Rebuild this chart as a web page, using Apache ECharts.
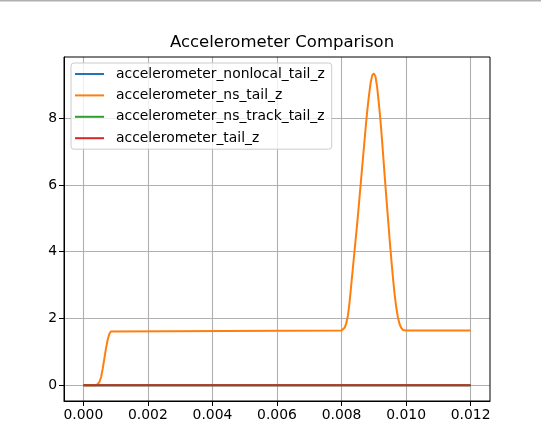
<!DOCTYPE html>
<html>
<head>
<meta charset="utf-8">
<script src="https://cdn.jsdelivr.net/npm/echarts@6/dist/echarts.min.js"></script>
<style>
html,body{margin:0;padding:0;background:#fff;}
#chart{width:541px;height:448px;}
</style>
</head>
<body>
<div id="chart"></div>
<script>
const titleText = 'Accelerometer Comparison';
const seriesNames = ['accelerometer_nonlocal_tail_z','accelerometer_ns_tail_z','accelerometer_ns_track_tail_z','accelerometer_tail_z'];
const seriesColors = ['#1f77b4','#ff7f0e','#2ca02c','#d62728'];
const xTicks = [0,0.002,0.004,0.006,0.008,0.010,0.012];
const yTicks = [0,2,4,6,8];

// zero-valued series (time, value)
const zeroTimes = [0, 0.012];
const zeroValues = [0, 0];

// ns_tail_z (time, value)
const nsTimes = [0,0.0004,0.00045,0.0005,0.00055,0.0006,0.00065,0.0007,0.00075,0.0008,0.00085,0.0009,
  0.008,0.00805,0.0081,0.00815,0.0082,0.00825,0.0083,0.00835,0.0084,0.00845,0.0085,0.00855,0.0086,0.00865,
  0.0087,0.00875,0.0088,0.00885,0.0089,0.00895,0.009,0.00905,0.0091,0.00915,0.0092,0.00925,0.0093,0.00935,
  0.0094,0.00945,0.0095,0.00955,0.0096,0.00965,0.0097,0.00975,0.0098,0.00985,0.0099,0.00995,0.010,0.012];
const nsValues = [0,0,0.02,0.1,0.25,0.5,0.8,1.1,1.35,1.53,1.61,1.64,
  1.64,1.65,1.73,1.87,2.1,2.5,3.0,3.5,4.0,4.5,5.0,5.55,6.1,6.65,
  7.2,7.75,8.25,8.68,9.05,9.28,9.34,9.25,8.95,8.5,8.0,7.4,6.75,6.1,
  5.48,4.86,4.25,3.68,3.15,2.68,2.3,2.02,1.83,1.72,1.66,1.64,1.64,1.64];

function pairs(xs, ys){ return xs.map((x,i)=>[x, ys[i]]); }

const seriesData = [
  pairs(zeroTimes, zeroValues),
  pairs(nsTimes, nsValues),
  pairs(zeroTimes, zeroValues),
  pairs(zeroTimes, zeroValues)
];

const chart = echarts.init(document.getElementById('chart'), null, {renderer:'canvas'});
const font = 'DejaVu Sans';
chart.setOption({
  animation:false,
  backgroundColor:'#fff',
  title:{text:titleText,left:277,top:29,textAlign:'center',
    textStyle:{fontFamily:font,fontSize:16.5,fontWeight:'normal',color:'#000'}},
  graphic:[{type:'rect',shape:{x:0,y:0,width:541,height:1.5},style:{fill:'#b0b0b0'},silent:true}],
  grid:{left:64,right:51,top:57,bottom:47,show:true,borderColor:'#000',borderWidth:1,backgroundColor:'transparent',z:10},
  legend:{
    orient:'vertical',left:71,top:63,
    data:seriesNames,
    icon:'rect',itemWidth:29,itemHeight:2,itemGap:5.4,
    padding:[3,7,3,4],
    backgroundColor:'rgba(255,255,255,0.8)',borderColor:'#cccccc',borderWidth:1,borderRadius:3,
    textStyle:{fontFamily:font,fontSize:13.9,color:'#000',lineHeight:16,padding:[0,0,0,7]}
  },
  xAxis:{type:'value',min:-0.0006,max:0.0126,
    axisLine:{show:true,onZero:false,lineStyle:{color:'#000',width:1}},
    axisTick:{show:true,length:5,lineStyle:{color:'#000',width:1},customValues:xTicks},
    axisLabel:{customValues:xTicks,fontFamily:font,fontSize:13.9,color:'#000',margin:7,
      formatter:v=>v.toFixed(3)},
    splitLine:{show:true,lineStyle:{color:'#b0b0b0',width:1.1}}
  },
  yAxis:{type:'value',min:-0.468,max:9.83,
    axisLine:{show:true,onZero:false,lineStyle:{color:'#000',width:1}},
    axisTick:{show:true,length:5,lineStyle:{color:'#000',width:1},customValues:yTicks},
    axisLabel:{customValues:yTicks,fontFamily:font,fontSize:13.9,color:'#000',margin:7,
      formatter:v=>String(v)},
    splitLine:{show:true,lineStyle:{color:'#b0b0b0',width:1.1}}
  },
  series:seriesNames.map((n,i)=>({
    name:n,type:'line',data:seriesData[i],showSymbol:false,symbol:'none',
    smooth:false,
    lineStyle:{color:seriesColors[i],width:2},itemStyle:{color:seriesColors[i]},
    z:2+i
  }))
});
</script>
</body>
</html>
